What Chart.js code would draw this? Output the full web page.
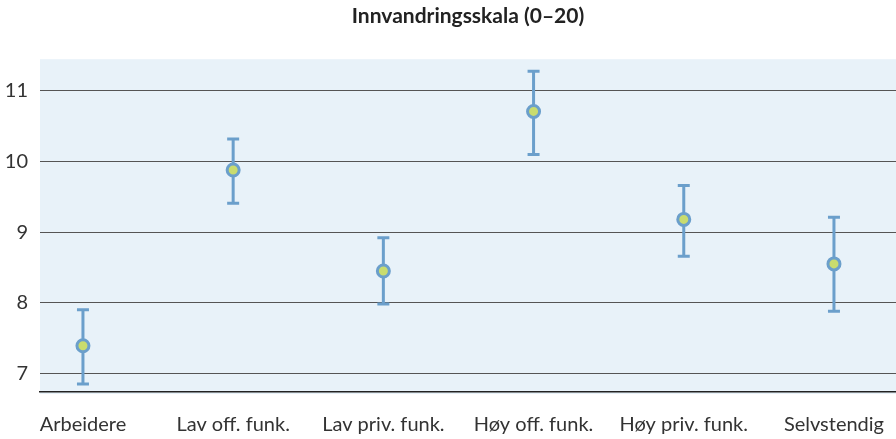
<!DOCTYPE html>
<html>
<head>
<meta charset="utf-8">
<script src="https://cdn.jsdelivr.net/npm/chart.js@4"></script>
<style>
  html, body { margin: 0; padding: 0; background: #fff; }
  #wrap { width: 896px; height: 439px; }
</style>
</head>
<body>
<div id="wrap"><canvas id="chart" width="896" height="439"></canvas></div>
<script>
// data
var categories = ['Arbeidere', 'Lav off. funk.', 'Lav priv. funk.', 'Høy off. funk.', 'Høy priv. funk.', 'Selvstendig'];
var means = [7.39, 9.88, 8.45, 10.71, 9.18, 8.55];
var lower = [6.85, 9.41, 7.98, 10.10, 8.66, 7.88];
var upper = [7.90, 10.32, 8.92, 11.28, 9.66, 9.21];
var yTicks = [7, 8, 9, 10, 11];

var barColor = '#6b9fcb';
var fontFamily = 'Lato, "Open Sans", sans-serif';

// light blue plot background
var plotBackground = {
    id: 'plotBackground',
    beforeDraw: function (chart) {
        var a = chart.chartArea;
        var c = chart.ctx;
        c.save();
        c.fillStyle = '#e8f2f9';
        c.fillRect(a.left, a.top, a.right - a.left, a.bottom - a.top + 2);
        c.restore();
    }
};

// vertical error bars with caps
var errorBars = {
    id: 'errorBars',
    beforeDatasetsDraw: function (chart) {
        var xs = chart.scales.x, ys = chart.scales.y, c = chart.ctx;
        c.save();
        c.strokeStyle = barColor;
        c.lineWidth = 3;
        for (var i = 0; i < means.length; i++) {
            var x = xs.getPixelForValue(i);
            var yl = ys.getPixelForValue(lower[i]);
            var yu = ys.getPixelForValue(upper[i]);
            c.beginPath();
            c.moveTo(x, yl); c.lineTo(x, yu);
            c.moveTo(x - 6, yl); c.lineTo(x + 6, yl);
            c.moveTo(x - 6, yu); c.lineTo(x + 6, yu);
            c.stroke();
        }
        c.restore();
    }
};

var ctx = document.getElementById('chart').getContext('2d');

new Chart(ctx, {
    type: 'scatter',
    data: {
        datasets: [{
            data: means.map(function (v, i) { return { x: i, y: v }; }),
            pointRadius: 6,
            pointHoverRadius: 6,
            pointBackgroundColor: '#c9dc6e',
            pointBorderColor: barColor,
            pointBorderWidth: 3
        }]
    },
    options: {
        responsive: false,
        animation: false,
        layout: { padding: 0, autoPadding: false },
        plugins: {
            legend: { display: false },
            tooltip: { enabled: false },
            title: {
                display: true,
                text: 'Innvandringsskala (0–20)',
                fullSize: false,
                color: '#222',
                font: { family: fontFamily, size: 21, weight: 'bold' },
                padding: { top: 4, bottom: 30 }
            }
        },
        scales: {
            x: {
                type: 'linear',
                min: -0.286,
                max: 5.413,
                afterBuildTicks: function (scale) {
                    scale.ticks = categories.map(function (c, i) { return { value: i }; });
                },
                afterFit: function (scale) {
                    scale.height = 47;
                    scale.paddingLeft = 0;
                    scale.paddingRight = 0;
                },
                ticks: {
                    autoSkip: false,
                    maxRotation: 0,
                    padding: 21,
                    color: '#333',
                    font: { family: fontFamily, size: 20 },
                    callback: function (v) { return categories[v]; }
                },
                grid: { display: false, drawTicks: false },
                border: { display: true, color: '#222', width: 1.5 }
            },
            y: {
                min: 6.735,
                max: 11.45,
                afterBuildTicks: function (scale) {
                    scale.ticks = yTicks.map(function (v) { return { value: v }; });
                },
                afterFit: function (scale) { scale.width = 40; },
                ticks: {
                    padding: 12,
                    color: '#333',
                    font: { family: fontFamily, size: 20 }
                },
                grid: { color: '#555', lineWidth: 1, drawTicks: false },
                border: { display: false }
            }
        }
    },
    plugins: [plotBackground, errorBars]
});
</script>
</body>
</html>
